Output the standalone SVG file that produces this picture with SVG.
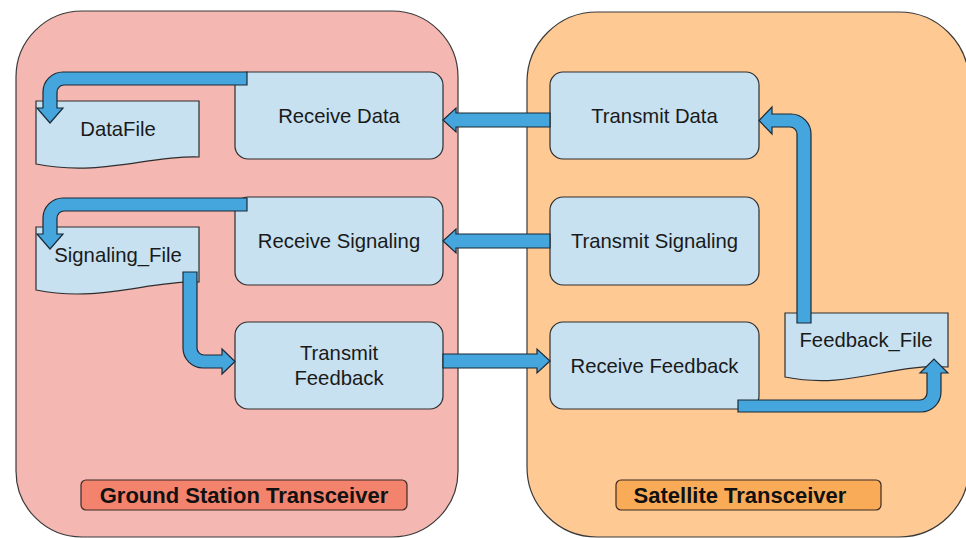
<svg xmlns="http://www.w3.org/2000/svg" width="966" height="538" viewBox="0 0 966 538">
<style>
.cont{stroke:#3a3a3a;stroke-width:1.2}
.node{fill:#c7e1f1;stroke:#2e2e2e;stroke-width:1.2}
.doc{fill:#c7e1f1;stroke:#2e2e2e;stroke-width:1.2}
.lbl{font-family:"Liberation Sans",Arial,sans-serif;font-size:20.3px;fill:#1a1a1a;text-anchor:middle}
.title{font-family:"Liberation Sans",Arial,sans-serif;font-size:22px;font-weight:bold;fill:#111;text-anchor:middle}
.arr{fill:#45a5dd;stroke:#1b2a36;stroke-width:1.2;stroke-linejoin:miter}
</style>
<rect width="966" height="538" fill="#ffffff"/>
<g id="ground-station">
<rect class="cont" x="16" y="11" width="442" height="526" rx="66" ry="66" fill="#f5b7b1"/>
<rect x="81" y="480" width="326" height="30" rx="5" fill="#f3836d" stroke="#3a2a28" stroke-width="1.2"/>
<text class="title" x="244" y="503">Ground Station Transceiver</text>
</g>
<g id="satellite">
<rect class="cont" x="527" y="12" width="442" height="525" rx="70" ry="70" fill="#ffc994"/>
<rect x="616" y="480" width="265" height="30" rx="5" fill="#f9ab57" stroke="#3a2a20" stroke-width="1.2"/>
<text class="title" x="740" y="503">Satellite Transceiver</text>
</g>
<g id="receive-data">
<rect class="node" x="235" y="72" width="208" height="87" rx="13"/>
<text class="lbl" x="339" y="123">Receive Data</text>
</g>
<g id="receive-signaling">
<rect class="node" x="235" y="197" width="208" height="88" rx="13"/>
<text class="lbl" x="339" y="248">Receive Signaling</text>
</g>
<g id="transmit-feedback">
<rect class="node" x="235" y="322" width="208" height="87" rx="13"/>
<text class="lbl" x="339" y="360">Transmit</text>
<text class="lbl" x="339" y="385">Feedback</text>
</g>
<g id="transmit-data">
<rect class="node" x="550" y="72" width="209" height="87" rx="13"/>
<text class="lbl" x="654.5" y="123">Transmit Data</text>
</g>
<g id="transmit-signaling">
<rect class="node" x="550" y="197" width="209" height="88" rx="13"/>
<text class="lbl" x="654.5" y="248">Transmit Signaling</text>
</g>
<g id="receive-feedback">
<rect class="node" x="550" y="322" width="209" height="87" rx="13"/>
<text class="lbl" x="654.5" y="373">Receive Feedback</text>
</g>
<g id="datafile">
<path class="doc" d="M36,101 H199 V157 C150,155 100,177 36,164 Z"/>
<text class="lbl" x="118" y="136">DataFile</text>
</g>
<g id="signaling-file">
<path class="doc" d="M36,227 H199 V282 C150,280 100,303 36,290 Z"/>
<text class="lbl" x="118" y="262">Signaling_File</text>
</g>
<g id="feedback-file">
<path class="doc" d="M785,313 H948 V367 C890,363 850,390 785,377 Z"/>
<text class="lbl" x="866" y="347">Feedback_File</text>
</g>
<g id="connectors">
<path class="arr" d="M550,113 H456 V108 L443,120 L456,132 V127 H550 Z"/>
<path class="arr" d="M550,234 H456 V229 L443,241 L456,253 V248 H550 Z"/>
<path class="arr" d="M443,354 H537 V349 L550,361 L537,373 V368 H443 Z"/>
<path class="arr" d="M247,72 H63 A20,20 0 0 0 43,92 V108 H37 L50,123 L63,108 H57 V92 A7,7 0 0 1 64,85 H247 Z"/>
<path class="arr" d="M247,198 H63 A20,20 0 0 0 43,218 V234 H37 L50,249 L63,234 H57 V218 A7,7 0 0 1 64,211 H247 Z"/>
<path class="arr" d="M183,272 V348 A20,20 0 0 0 203,368 H222 V374 L235,361.5 L222,349 V355 H204 A7,7 0 0 1 197,348 V272 Z"/>
<path class="arr" d="M797,323 V134 A7,7 0 0 0 790,127 H772 V134 L759,120.5 L772,107 V114 H791 A20,20 0 0 1 811,134 V323 Z"/>
<path class="arr" d="M738,400 H920 A7,7 0 0 0 927,393 V373 H920 L934,359 L948,373 H941 V392 A20,20 0 0 1 921,412 H738 Z"/>
</g>
</svg>
